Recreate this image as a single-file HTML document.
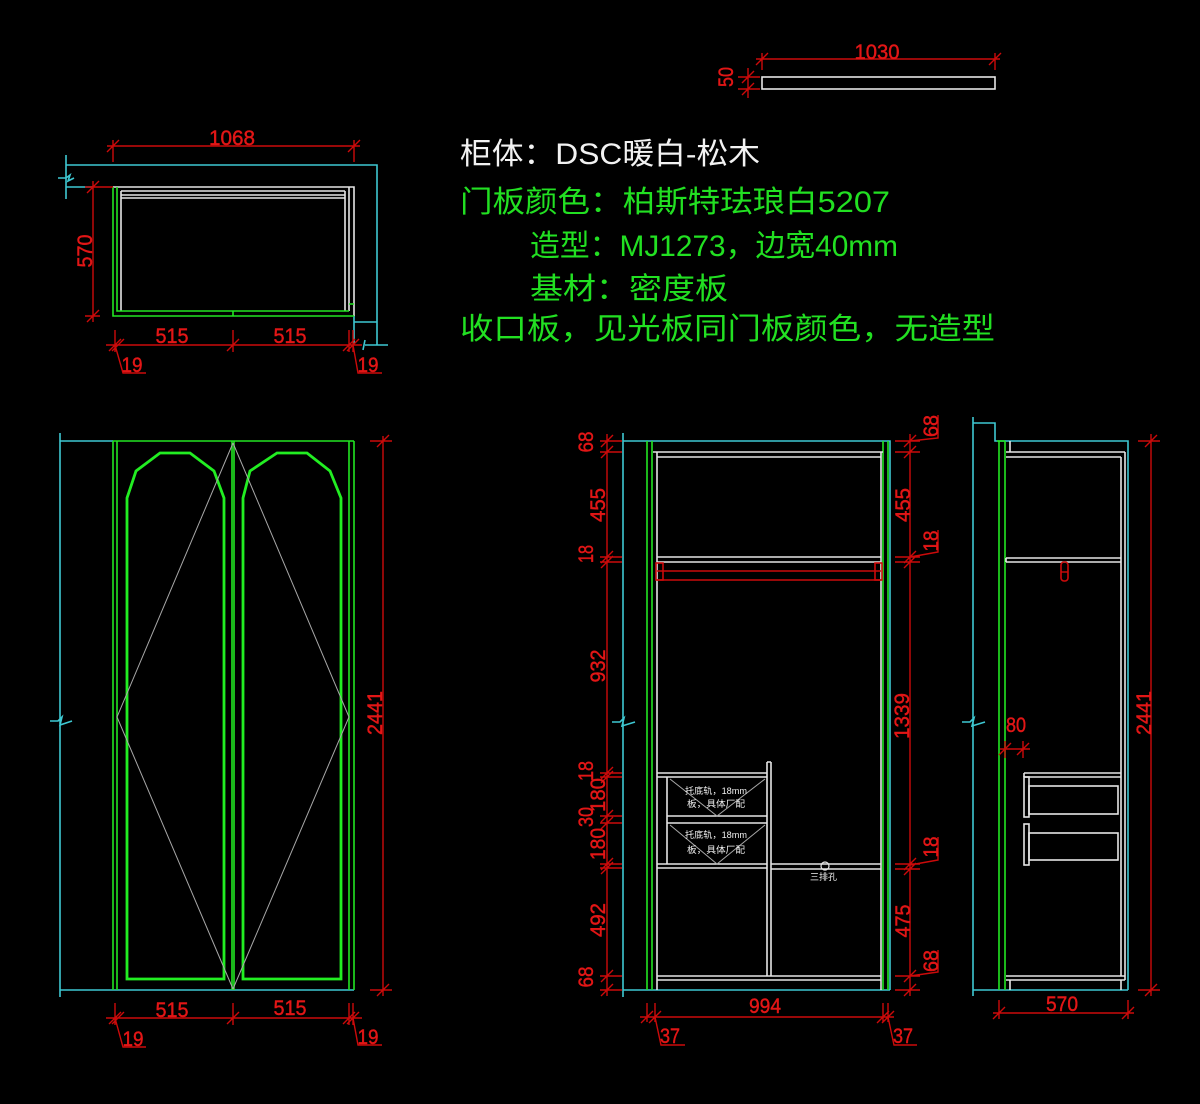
<!DOCTYPE html>
<html><head><meta charset="utf-8"><style>
html,body{margin:0;padding:0;background:#000;}
svg{display:block;}
.r{stroke:#cc0a0a;fill:none;stroke-width:1.4}
.c{stroke:#3ec8d2;fill:none;stroke-width:1.6}
.g{stroke:#22e622;fill:none;stroke-width:1.6}
.gt{stroke:#22ee22;fill:none;stroke-width:2.8}
.w{stroke:#e6e6e6;fill:none;stroke-width:1.6}
.gr{stroke:#a8a8a8;fill:none;stroke-width:1}
.d{fill:#e21616;stroke:#e21616;stroke-width:0.45;font-family:"Liberation Sans",sans-serif;font-size:21px;}
.t{font-family:"Liberation Sans","Noto Sans CJK SC",sans-serif;font-size:30px;}
.s{fill:#f0f0f0;font-family:"Liberation Sans","Noto Sans CJK SC",sans-serif;font-size:9px;}
</style></head><body>
<svg width="1200" height="1104" viewBox="0 0 1200 1104" xmlns="http://www.w3.org/2000/svg">
<rect width="1200" height="1104" fill="#000"/>

<!-- ===== Top piece 1030 x 50 ===== -->
<rect x="762" y="77" width="233" height="12" class="w"/>
<path class="r" d="M756,59 L1000,59 M762,53 L762,70 M995,53 L995,70 M756,65 L768,53 M989,65 L1001,53
 M748,68 L748,98 M738,77 L760,77 M738,89 L760,89 M742,83 L754,71 M742,95 L754,83"/>
<text class="d" x="877" y="59" text-anchor="middle" textLength="45" lengthAdjust="spacingAndGlyphs">1030</text>
<text class="d" transform="translate(725,77) rotate(-90)" y="8" text-anchor="middle" textLength="20" lengthAdjust="spacingAndGlyphs">50</text>

<!-- ===== Plan view ===== -->
<path class="c" d="M66,155 L66,199 M66,165 L377,165 L377,345 M66,187 L93,187 M58,178 L66,178 L70,175 L68,181 L74,178 M354,316 L354,345 M354,322 L377,322 M365,345 L388,345 M365,340 L363,350"/>
<path class="w" d="M113,187 L354,187 L354,316 M121,191 L345,191 M121,195 L345,195 M121,198 L345,198 M121,191 L121,311 M345,191 L345,311 M349,187 L349,311"/>
<path class="g" d="M113,187 L113,316 L354,316 M117,187 L117,311 L349,311 M233,311 L233,316 M349,304 L354,304"/>
<path class="r" d="M107,146 L360,146 M113,140 L113,162 M354,140 L354,162 M107,152 L119,140 M348,152 L360,140
 M93,181 L93,322 M85,187 L113,187 M85,316 L100,316 M87,193 L99,181 M87,322 L99,310
 M106,345 L362,345 M115,330 L115,352 M233,330 L233,352 M349,330 L349,352 M353,330 L353,352
 M109,351 L121,339 M112,351 L124,339 M227,351 L239,339 M343,351 L355,339 M347,351 L359,339
 M115,345 L123,373 L146,373 M353,345 L358,373 L382,373"/>
<text class="d" x="232" y="145" text-anchor="middle" textLength="46" lengthAdjust="spacingAndGlyphs">1068</text>
<text class="d" transform="translate(84,251) rotate(-90)" y="8" text-anchor="middle" textLength="33" lengthAdjust="spacingAndGlyphs">570</text>
<text class="d" x="172" y="343" text-anchor="middle" textLength="33" lengthAdjust="spacingAndGlyphs">515</text>
<text class="d" x="290" y="343" text-anchor="middle" textLength="33" lengthAdjust="spacingAndGlyphs">515</text>
<text class="d" x="132" y="372" text-anchor="middle" textLength="21" lengthAdjust="spacingAndGlyphs">19</text>
<text class="d" x="368" y="372" text-anchor="middle" textLength="21" lengthAdjust="spacingAndGlyphs">19</text>

<!-- ===== Text block ===== -->
<text class="t" x="460" y="164" fill="#f2f2f2" textLength="300" lengthAdjust="spacingAndGlyphs">柜体：DSC暖白-松木</text>
<text class="t" x="460" y="212" fill="#22e022" textLength="430" lengthAdjust="spacingAndGlyphs">门板颜色：柏斯特珐琅白5207</text>
<text class="t" x="530" y="256" fill="#22e022" textLength="368" lengthAdjust="spacingAndGlyphs">造型：MJ1273，边宽40mm</text>
<text class="t" x="530" y="299" fill="#22e022" textLength="198" lengthAdjust="spacingAndGlyphs">基材：密度板</text>
<text class="t" x="460" y="339" fill="#22e022" textLength="535" lengthAdjust="spacingAndGlyphs">收口板，见光板同门板颜色，无造型</text>

<!-- ===== Left elevation (doors) ===== -->
<path class="c" d="M60,433 L60,997 M60,441 L113,441 M60,990 L354,990 M50,721 L58,721 L62,717 L60,725 L72,721"/>
<path class="g" d="M113,441 L354,441 M113,441 L113,990 M117,441 L117,990 M354,441 L354,990 M349,441 L349,990 M232,441 L232,990 M234,441 L234,990"/>
<path class="gt" d="M127,979 L127,498 L136,471 L160,453 L190,453 L214,471 L224,498 L224,979 Z"/>
<path class="gt" d="M243,979 L243,498 L250,471 L277,453 L307,453 L330,471 L341,498 L341,979 Z"/>
<path class="gr" d="M233,443 L117,717 L233,989 M233,443 L349,717 L233,989"/>
<path class="r" d="M383,436 L383,996 M370,441 L392,441 M370,990 L392,990 M377,447 L389,435 M377,996 L389,984
 M106,1018 L362,1018 M115,1003 L115,1025 M233,1003 L233,1025 M349,1003 L349,1025 M353,1003 L353,1025
 M109,1024 L121,1012 M112,1024 L124,1012 M227,1024 L239,1012 M343,1024 L355,1012 M347,1024 L359,1012
 M115,1018 L123,1047 L146,1047 M353,1018 L358,1045 L382,1045"/>
<text class="d" transform="translate(374,713) rotate(-90)" y="8" text-anchor="middle" textLength="44" lengthAdjust="spacingAndGlyphs">2441</text>
<text class="d" x="172" y="1017" text-anchor="middle" textLength="33" lengthAdjust="spacingAndGlyphs">515</text>
<text class="d" x="290" y="1015" text-anchor="middle" textLength="33" lengthAdjust="spacingAndGlyphs">515</text>
<text class="d" x="133" y="1046" text-anchor="middle" textLength="21" lengthAdjust="spacingAndGlyphs">19</text>
<text class="d" x="368" y="1044" text-anchor="middle" textLength="21" lengthAdjust="spacingAndGlyphs">19</text>

<!-- ===== Middle elevation (interior) ===== -->
<path class="c" d="M623,433 L623,997 M623,441 L890,441 L890,990 M623,990 L890,990 M612,722 L620,722 L624,718 L622,726 L635,722"/>
<path class="g" d="M647,441 L647,990 M652,441 L652,990 M883,441 L883,990 M888,441 L888,990"/>
<path class="w" d="M653,452 L883,452 M657,457 L881,457 M657,452 L657,990 M881,452 L881,990
 M657,557 L881,557 M657,562 L881,562
 M657,976 L881,976 M657,980 L881,980
 M657,773 L767,773 M657,777 L767,777 M767,762 L767,976 M771,762 L771,976 M767,762 L771,762
 M667,777 L667,864 M667,816 L767,816 M667,823 L767,823 M657,864 L767,864 M657,868 L767,868
 M771,864 L881,864 M771,869 L881,869"/>
<path class="r" d="M657,571 L881,571 M657,580 L881,580" style="stroke-width:1.6"/>
<rect x="656" y="563" width="7" height="17" class="r" style="stroke-width:1.6"/>
<rect x="875" y="563" width="7" height="17" class="r" style="stroke-width:1.6"/>
<path class="gr" d="M670,779 L717,816 L765,779 M670,825 L717,864 L765,825"/>
<circle cx="825" cy="866" r="4" class="w" style="stroke-width:1.2"/>
<text class="s" x="685" y="794" textLength="62" lengthAdjust="spacingAndGlyphs">托底轨，18mm</text>
<text class="s" x="687" y="807" textLength="58" lengthAdjust="spacingAndGlyphs">板，具体厂配</text>
<text class="s" x="685" y="838" textLength="62" lengthAdjust="spacingAndGlyphs">托底轨，18mm</text>
<text class="s" x="687" y="853" textLength="58" lengthAdjust="spacingAndGlyphs">板，具体厂配</text>
<text class="s" x="810" y="880" textLength="27" lengthAdjust="spacingAndGlyphs">三排孔</text>
<!-- left dims -->
<path class="r" d="M607,434 L607,996
 M600,441 L622,441 M600,452 L622,452 M600,557 L622,557 M600,562 L622,562 M600,773 L622,773 M600,777 L622,777 M600,816 L622,816 M600,823 L622,823 M600,864 L622,864 M600,868 L622,868 M600,976 L622,976 M600,990 L622,990
 M601,447 L613,435 M601,458 L613,446 M601,563 L613,551 M601,568 L613,556 M601,779 L613,767 M601,783 L613,771 M601,822 L613,810 M601,829 L613,817 M601,870 L613,858 M601,874 L613,862 M601,982 L613,970 M601,996 L613,984"/>
<text class="d" transform="translate(585,442) rotate(-90)" y="8" text-anchor="middle" textLength="21" lengthAdjust="spacingAndGlyphs">68</text>
<text class="d" transform="translate(597,505) rotate(-90)" y="8" text-anchor="middle" textLength="34" lengthAdjust="spacingAndGlyphs">455</text>
<text class="d" transform="translate(585,554) rotate(-90)" y="8" text-anchor="middle" textLength="18" lengthAdjust="spacingAndGlyphs">18</text>
<text class="d" transform="translate(597,666) rotate(-90)" y="8" text-anchor="middle" textLength="33" lengthAdjust="spacingAndGlyphs">932</text>
<text class="d" transform="translate(585,771) rotate(-90)" y="8" text-anchor="middle" textLength="20" lengthAdjust="spacingAndGlyphs">18</text>
<text class="d" transform="translate(597,795) rotate(-90)" y="8" text-anchor="middle" textLength="34" lengthAdjust="spacingAndGlyphs">180</text>
<text class="d" transform="translate(585,817) rotate(-90)" y="8" text-anchor="middle" textLength="20" lengthAdjust="spacingAndGlyphs">30</text>
<text class="d" transform="translate(597,844) rotate(-90)" y="8" text-anchor="middle" textLength="32" lengthAdjust="spacingAndGlyphs">180</text>
<text class="d" transform="translate(597,920) rotate(-90)" y="8" text-anchor="middle" textLength="34" lengthAdjust="spacingAndGlyphs">492</text>
<text class="d" transform="translate(585,977) rotate(-90)" y="8" text-anchor="middle" textLength="21" lengthAdjust="spacingAndGlyphs">68</text>
<!-- right dims -->
<path class="r" d="M910,434 L910,996
 M895,441 L920,441 M895,452 L920,452 M895,557 L920,557 M895,562 L920,562 M895,864 L920,864 M895,869 L920,869 M895,976 L920,976 M895,990 L920,990
 M904,447 L916,435 M904,458 L916,446 M904,563 L916,551 M904,568 L916,556 M904,870 L916,858 M904,875 L916,863 M904,982 L916,970 M904,996 L916,984
 M910,441 L938,438 L938,415 M910,557 L938,552 L938,530 M910,865 L938,860 L938,837 M910,976 L938,972 L938,950"/>
<text class="d" transform="translate(930,426) rotate(-90)" y="8" text-anchor="middle" textLength="22" lengthAdjust="spacingAndGlyphs">68</text>
<text class="d" transform="translate(902,505) rotate(-90)" y="8" text-anchor="middle" textLength="34" lengthAdjust="spacingAndGlyphs">455</text>
<text class="d" transform="translate(930,541) rotate(-90)" y="8" text-anchor="middle" textLength="21" lengthAdjust="spacingAndGlyphs">18</text>
<text class="d" transform="translate(901,716) rotate(-90)" y="8" text-anchor="middle" textLength="46" lengthAdjust="spacingAndGlyphs">1339</text>
<text class="d" transform="translate(930,847) rotate(-90)" y="8" text-anchor="middle" textLength="21" lengthAdjust="spacingAndGlyphs">18</text>
<text class="d" transform="translate(902,921) rotate(-90)" y="8" text-anchor="middle" textLength="33" lengthAdjust="spacingAndGlyphs">475</text>
<text class="d" transform="translate(930,961) rotate(-90)" y="8" text-anchor="middle" textLength="22" lengthAdjust="spacingAndGlyphs">68</text>
<!-- bottom dim -->
<path class="r" d="M640,1017 L894,1017 M647,1003 L647,1022 M655,1003 L655,1022 M883,1003 L883,1022 M888,1003 L888,1022
 M641,1023 L653,1011 M649,1023 L661,1011 M877,1023 L889,1011 M882,1023 L894,1011
 M655,1017 L661,1045 L685,1045 M888,1017 L894,1045 L917,1045"/>
<text class="d" x="765" y="1013" text-anchor="middle" textLength="32" lengthAdjust="spacingAndGlyphs">994</text>
<text class="d" x="670" y="1043" text-anchor="middle" textLength="20" lengthAdjust="spacingAndGlyphs">37</text>
<text class="d" x="903" y="1043" text-anchor="middle" textLength="20" lengthAdjust="spacingAndGlyphs">37</text>

<!-- ===== Right side view ===== -->
<path class="c" d="M973,417 L973,996 M973,423 L995,423 L995,441 L1128,441 L1128,990 M973,990 L1128,990 M962,722 L970,722 L974,718 L972,726 L985,722"/>
<path class="g" d="M999,441 L999,990 M1005,441 L1005,990 M997,441 L1005,441"/>
<path class="w" d="M1006,452 L1125,452 M1006,457 L1121,457 M1010,441 L1010,452 M1121,457 L1121,976 M1125,452 L1125,980
 M1006,558 L1121,558 M1006,562 L1121,562 M1006,558 L1006,562
 M1006,976 L1125,976 M1006,980 L1125,980 M1010,980 L1010,990 M1121,980 L1121,990
 M1024,773 L1121,773 M1024,777 L1121,777 M1024,773 L1024,777"/>
<rect x="1024" y="777" width="5" height="40" class="w"/>
<rect x="1029" y="786" width="89" height="28" class="w"/>
<rect x="1024" y="824" width="5" height="41" class="w"/>
<rect x="1029" y="833" width="89" height="27" class="w"/>
<rect x="1061" y="562" width="7" height="19" rx="3" class="r" style="stroke-width:1.6"/>
<path class="r" d="M1061,572 L1068,572"/>
<path class="r" d="M1151,434 L1151,996 M1138,441 L1160,441 M1138,990 L1160,990 M1145,447 L1157,435 M1145,996 L1157,984
 M993,1013 L1134,1013 M999,1000 L999,1019 M1128,1000 L1128,1019 M993,1019 L1005,1007 M1122,1019 L1134,1007
 M1000,749 L1030,749 M1005,741 L1005,758 M1023,741 L1023,758 M999,755 L1011,743 M1017,755 L1029,743"/>
<text class="d" transform="translate(1143,713) rotate(-90)" y="8" text-anchor="middle" textLength="44" lengthAdjust="spacingAndGlyphs">2441</text>
<text class="d" x="1062" y="1011" text-anchor="middle" textLength="32" lengthAdjust="spacingAndGlyphs">570</text>
<text class="d" x="1016" y="732" text-anchor="middle" textLength="20" lengthAdjust="spacingAndGlyphs">80</text>
</svg>
</body></html>
